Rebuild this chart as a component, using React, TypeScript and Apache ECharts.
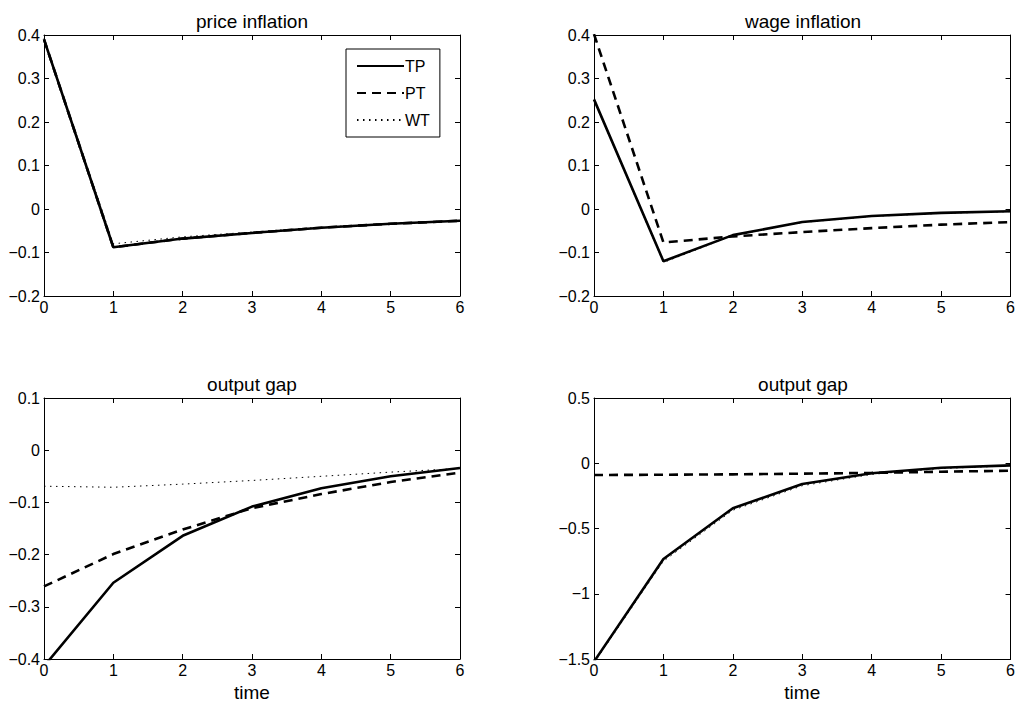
import React, { useEffect, useRef } from "react";
import * as echarts from "echarts";

const time = [0, 1, 2, 3, 4, 5, 6];

const priceTP = [0.39, -0.088, -0.068, -0.055, -0.043, -0.034, -0.027];
const pricePT = [0.39, -0.088, -0.068, -0.055, -0.043, -0.034, -0.027];
const priceWT = [0.392, -0.08, -0.064, -0.053, -0.042, -0.033, -0.026];

const wageTP = [0.252, -0.12, -0.06, -0.03, -0.016, -0.009, -0.005];
const wagePT = [0.402, -0.077, -0.063, -0.053, -0.044, -0.036, -0.03];
const wageWT = [0.25, -0.123, -0.061, -0.031, -0.017, -0.01, -0.006];

const gap1TP = [-0.414, -0.254, -0.164, -0.108, -0.073, -0.05, -0.034];
const gap1PT = [-0.261, -0.199, -0.152, -0.111, -0.084, -0.061, -0.043];
const gap1WT = [-0.069, -0.071, -0.065, -0.058, -0.05, -0.042, -0.035];

const gap2TP = [-1.52, -0.734, -0.345, -0.159, -0.077, -0.034, -0.016];
const gap2PT = [-0.09, -0.088, -0.085, -0.08, -0.074, -0.065, -0.057];
const gap2WT = [-1.53, -0.75, -0.36, -0.172, -0.085, -0.04, -0.02];

const titles = ["price inflation", "wage inflation", "output gap", "output gap"];
const yRanges = [
  { min: -0.2, max: 0.4, interval: 0.1 },
  { min: -0.2, max: 0.4, interval: 0.1 },
  { min: -0.4, max: 0.1, interval: 0.1 },
  { min: -1.5, max: 0.5, interval: 0.5 },
];

const FONT = "Liberation Sans, Arial, Helvetica, sans-serif";

const grids = [
  { left: 44, top: 35, width: 416, height: 261 },
  { left: 594, top: 35, width: 418, height: 261 },
  { left: 44, top: 398, width: 416, height: 261 },
  { left: 594, top: 398, width: 418, height: 261 },
];

const fmt = (v: number) => {
  const r = Number(v.toFixed(2));
  if (r === 0) return "0";
  return r < 0 ? "\u2212" + String(Math.abs(r)) : String(r);
};

export default function App() {
  const ref = useRef<HTMLDivElement>(null);
  useEffect(() => {
    document.body.style.margin = "0";
    const chart = echarts.init(ref.current!, null, { renderer: "svg" });
    const xAxes: any[] = [];
    const yAxes: any[] = [];
    grids.forEach((g, i) => {
      const common = {
        gridIndex: i,
        type: "value",
        min: 0,
        max: 6,
        interval: 1,
        axisLine: { show: true, onZero: false, lineStyle: { color: "#000", width: 1 } },
        axisTick: { show: true, inside: true, length: 5, lineStyle: { color: "#000" } },
        splitLine: { show: false },
      };
      xAxes.push({
        ...common,
        position: "bottom",
        axisLabel: { color: "#000", fontSize: 16, fontFamily: FONT, margin: 3 },
        name: i >= 2 ? "time" : "",
        nameLocation: "middle",
        nameGap: 24,
        nameTextStyle: { color: "#000", fontSize: 19, fontFamily: FONT },
      });
      xAxes.push({ ...common, position: "top", axisLabel: { show: false } });
      const yr = yRanges[i];
      const ycommon = {
        gridIndex: i,
        type: "value",
        min: yr.min,
        max: yr.max,
        interval: yr.interval,
        axisLine: { show: true, onZero: false, lineStyle: { color: "#000", width: 1 } },
        axisTick: { show: true, inside: true, length: 5, lineStyle: { color: "#000" } },
        splitLine: { show: false },
      };
      yAxes.push({
        ...ycommon,
        position: "left",
        axisLabel: { color: "#000", fontSize: 16, fontFamily: FONT, margin: 4, formatter: fmt },
      });
      yAxes.push({ ...ycommon, position: "right", axisLabel: { show: false } });
    });

    const sets = [
      [priceTP, pricePT, priceWT],
      [wageTP, wagePT, wageWT],
      [gap1TP, gap1PT, gap1WT],
      [gap2TP, gap2PT, gap2WT],
    ];
    const styles = [
      { name: "TP", lineStyle: { color: "#000", width: 2.6, type: "solid" } },
      { name: "PT", lineStyle: { color: "#000", width: 2.6, type: [9, 6] } },
      { name: "WT", lineStyle: { color: "#000", width: 1, type: [1.5, 4.5] } },
    ];
    const series: any[] = [];
    sets.forEach((set, i) => {
      [2, 1, 0].forEach((k) => {
        series.push({
          type: "line",
          name: styles[k].name,
          xAxisIndex: i * 2,
          yAxisIndex: i * 2,
          data: time.map((t, j) => [t, set[k][j]]),
          symbol: "none",
          clip: true,
          lineStyle: styles[k].lineStyle,
          itemStyle: { color: "#000" },
          z: 3 - k,
        });
      });
    });

    chart.setOption({
      animation: false,
      backgroundColor: "#fff",
      textStyle: { fontFamily: FONT },
      grid: grids.map((g) => ({ ...g, containLabel: false })),
      xAxis: xAxes,
      yAxis: yAxes,
      legend: {
        data: ["TP", "PT", "WT"],
        orient: "vertical",
        left: 346,
        top: 49,
        itemWidth: 47,
        itemHeight: 16,
        itemGap: 11,
        padding: [9, 10, 9, 10],
        borderColor: "#000",
        borderWidth: 1,
        backgroundColor: "#fff",
        selectedMode: false,
        itemStyle: { opacity: 0 },
        textStyle: { color: "#000", fontSize: 16, fontFamily: FONT, padding: [0, 0, 0, -4] },
      },
      graphic: grids.map((g, i) => ({
        type: "text",
        x: g.left + g.width / 2,
        y: g.top - 14,
        style: {
          text: titles[i],
          fill: "#000",
          fontSize: 19,
          fontFamily: FONT,
          align: "center",
          verticalAlign: "middle",
        },
      })),
      series,
    });
    return () => chart.dispose();
  }, []);
  return (
    <div
      ref={ref}
      style={{ position: "absolute", left: 0, top: 0, width: 1018, height: 706 }}
    />
  );
}
